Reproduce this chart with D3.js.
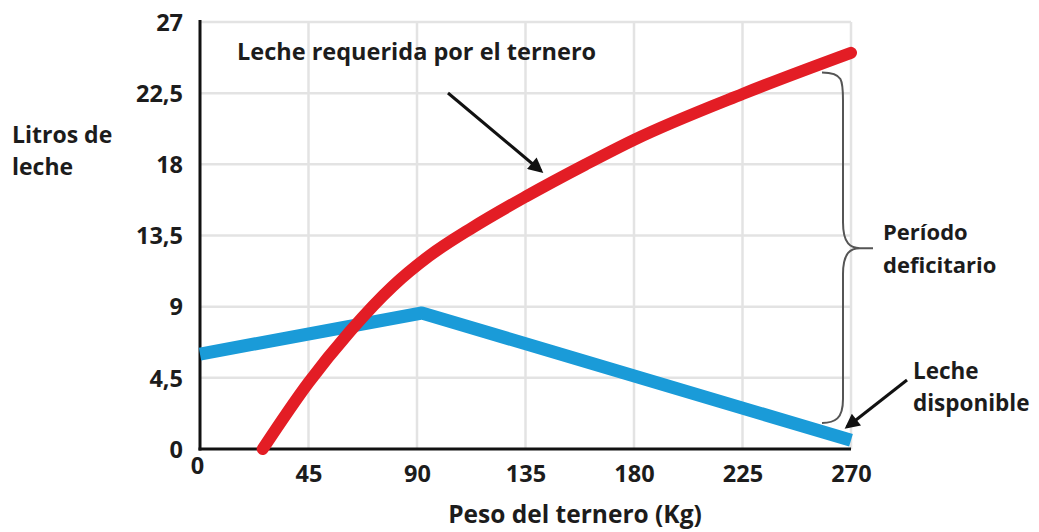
<!DOCTYPE html>
<html>
<head>
<meta charset="utf-8">
<script src="https://cdn.jsdelivr.net/npm/d3@7"></script>
<style>
  html, body { margin: 0; padding: 0; background: #fff; }
  svg { display: block; }
  text { font-family: "Open Sans", Lato, sans-serif; font-weight: 700; fill: #1c1c1c; }
</style>
</head>
<body>
<svg id="chart" width="1039" height="532"></svg>
<script>
// ---- data ----
const xTicks = [0, 45, 90, 135, 180, 225, 270];
const yTicks = [0, 4.5, 9, 13.5, 18, 22.5, 27];
const yTickLabels = ["0", "4,5", "9", "13,5", "18", "22,5", "27"];

// Leche requerida por el ternero (kg, litros)
const reqWeight = [26, 45, 62, 80, 95, 113, 135, 160, 180, 225, 270];
const reqMilk   = [0, 4.2, 7.4, 10.3, 12.2, 14.0, 15.95, 18.0, 19.55, 22.45, 25.05];

// Leche disponible (kg, litros)
const avWeight = [0, 92, 270];
const avMilk   = [6.0, 8.6, 0.55];

const yTitleLines = ["Litros de", "leche"];
const xTitle = "Peso del ternero (Kg)";
const reqLabel = "Leche requerida por el ternero";
const gapLines = ["Período", "deficitario"];
const avLines = ["Leche", "disponible"];

// ---- layout ----
const svg = d3.select("#chart");
const x = d3.scaleLinear().domain([0, 270]).range([200, 851]);
const y = d3.scaleLinear().domain([0, 27]).range([449, 22]);

const defs = svg.append("defs");
defs.append("marker")
  .attr("id", "arrow").attr("viewBox", "0 0 10 10")
  .attr("refX", 8).attr("refY", 5)
  .attr("markerWidth", 5.5).attr("markerHeight", 5)
  .attr("markerUnits", "strokeWidth")
  .attr("orient", "auto")
  .append("path").attr("d", "M0,0 L10,5 L0,10 Z").attr("fill", "#111");

// grid
const grid = svg.append("g");
grid.selectAll("line.v").data(xTicks.slice(1)).join("line")
  .attr("x1", d => x(d)).attr("x2", d => x(d))
  .attr("y1", y(27)).attr("y2", y(0))
  .attr("stroke", "#e3e3e3").attr("stroke-width", 2.5);
grid.selectAll("line.h").data(yTicks.slice(1)).join("line")
  .attr("x1", x(0)).attr("x2", x(270))
  .attr("y1", d => y(d)).attr("y2", d => y(d))
  .attr("stroke", "#e3e3e3").attr("stroke-width", 2.5);

// axes
const yAxis = svg.append("g").attr("transform", `translate(${x(0)},0)`)
  .call(d3.axisLeft(y).tickValues(yTicks).tickSize(0).tickPadding(17)
    .tickFormat((d, i) => yTickLabels[i]));
yAxis.select(".domain").remove();
yAxis.selectAll("text").style("font-size", "23.5px").attr("dy", "0.35em").attr("text-anchor", "end");

const xAxis = svg.append("g").attr("transform", `translate(0,${y(0)})`)
  .call(d3.axisBottom(x).tickValues(xTicks).tickSize(0).tickPadding(25)
    .tickFormat(d3.format("d")));
xAxis.select(".domain").remove();
xAxis.selectAll("text").style("font-size", "23.5px").attr("dy", "0.35em");
xAxis.selectAll(".tick").filter(d => d === 0).select("text")
  .attr("x", -3).attr("y", 17);

svg.append("line").attr("x1", x(0)).attr("x2", x(0)).attr("y1", y(27) - 2).attr("y2", y(0) + 1.5)
  .attr("stroke", "#111").attr("stroke-width", 3);
svg.append("line").attr("x1", x(0) - 1.5).attr("x2", x(270)).attr("y1", y(0)).attr("y2", y(0))
  .attr("stroke", "#111").attr("stroke-width", 3);

// lines
const reqData = reqWeight.map((w, i) => [w, reqMilk[i]]);
const avData = avWeight.map((w, i) => [w, avMilk[i]]);

svg.append("path").datum(avData)
  .attr("d", d3.line().x(d => x(d[0])).y(d => y(d[1])))
  .attr("fill", "none").attr("stroke", "#1a9bd8").attr("stroke-width", 13)
  .attr("stroke-linejoin", "round").attr("stroke-linecap", "butt");

svg.append("path").datum(reqData)
  .attr("d", d3.line().curve(d3.curveMonotoneX).x(d => x(d[0])).y(d => y(d[1])))
  .attr("fill", "none").attr("stroke", "#e31d25").attr("stroke-width", 12)
  .attr("stroke-linejoin", "round").attr("stroke-linecap", "round");

// titles
svg.append("text").attr("x", 12).attr("y", 143).style("font-size", "23px")
  .selectAll("tspan").data(yTitleLines).join("tspan")
  .attr("x", 12).attr("dy", (d, i) => i ? 32 : 0).text(d => d);

svg.append("text").attr("x", 575).attr("y", 523).attr("text-anchor", "middle")
  .style("font-size", "24.5px").text(xTitle);

// annotation: required milk
svg.append("text").attr("x", 237).attr("y", 60).style("font-size", "23.5px").text(reqLabel);
svg.append("line").attr("x1", 448).attr("y1", 93).attr("x2", 541).attr("y2", 171)
  .attr("stroke", "#111").attr("stroke-width", 3).attr("marker-end", "url(#arrow)");

// brace
const bx = x(270);
const bTop = y(23.8), bBot = y(1.65), bMid = y(12.7);
const brace = `M${bx - 29},${bTop} C${bx - 8},${bTop} ${bx - 8},${bTop + 8} ${bx - 8},${bTop + 28}
 L${bx - 8},${bMid - 26} C${bx - 8},${bMid - 4} ${bx},${bMid} ${bx + 9},${bMid} L${bx + 22},${bMid}
 M${bx + 9},${bMid} C${bx},${bMid} ${bx - 8},${bMid + 4} ${bx - 8},${bMid + 26}
 L${bx - 8},${bBot - 24} C${bx - 8},${bBot - 4} ${bx - 16},${bBot} ${bx - 29},${bBot}`;
svg.append("path").attr("d", brace).attr("fill", "none")
  .attr("stroke", "#555").attr("stroke-width", 2);

svg.append("text").attr("x", 883).attr("y", 240).style("font-size", "22px")
  .selectAll("tspan").data(gapLines).join("tspan")
  .attr("x", 883).attr("dy", (d, i) => i ? 33 : 0).text(d => d);

// annotation: available milk
svg.append("text").attr("x", 913).attr("y", 379).style("font-size", "22.5px")
  .selectAll("tspan").data(avLines).join("tspan")
  .attr("x", 913).attr("dy", (d, i) => i ? 32 : 0).text(d => d);
svg.append("line").attr("x1", 907).attr("y1", 380).attr("x2", 847).attr("y2", 427)
  .attr("stroke", "#111").attr("stroke-width", 3).attr("marker-end", "url(#arrow)");
</script>
</body>
</html>
